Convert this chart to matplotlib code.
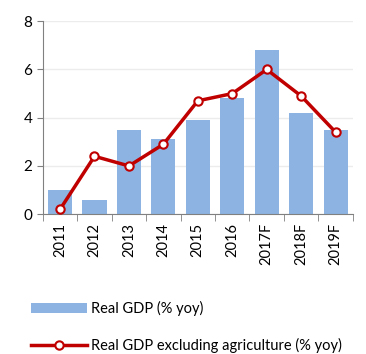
import matplotlib
matplotlib.use("Agg")
import matplotlib.pyplot as plt
import numpy as np

categories = ["2011", "2012", "2013", "2014", "2015", "2016", "2017F", "2018F", "2019F"]
real_gdp = [1.0, 0.6, 3.5, 3.1, 3.9, 4.8, 6.8, 4.2, 3.5]
real_gdp_ex_agri = [0.2, 2.4, 2.0, 2.9, 4.7, 5.0, 6.0, 4.9, 3.4]
y_ticks = [0, 2, 4, 6, 8]

plt.rcParams['font.family'] = ['Lato', 'DejaVu Sans']

fig = plt.figure(figsize=(3.66, 3.54), dpi=100)
ax = fig.add_axes([0.117, 0.395, 0.847, 0.545])

x = np.arange(len(categories))
bars = ax.bar(x, real_gdp, width=0.7, color="#8db3e2", zorder=2, label="Real GDP (% yoy)")
line, = ax.plot(x, real_gdp_ex_agri, color="#c00000", lw=2.5, marker="o", ms=6,
                mfc="white", mec="#c00000", mew=1.5, zorder=3,
                label="Real GDP excluding agriculture (% yoy)")

ax.set_xlim(-0.5, len(categories) - 0.5)
ax.set_ylim(0, 8)
ax.set_yticks(y_ticks)
ax.yaxis.grid(True, color="#ececec", lw=1, zorder=0)
ax.set_xticks(x)
ax.set_xticklabels(categories, rotation=90, fontsize=10.5)
ax.tick_params(axis="x", length=0, pad=6)
ax.set_xticks(np.arange(-0.5, len(categories)), minor=True)
ax.tick_params(axis="x", which="minor", length=5, color="#808080", direction="out")
ax.tick_params(axis="y", length=4, color="#808080", labelsize=11)

for s in ["top", "right"]:
    ax.spines[s].set_visible(False)
for s in ["left", "bottom"]:
    ax.spines[s].set_color("#808080")

fig.legend(handles=[bars, line], loc="upper left", bbox_to_anchor=(0.07, 0.165),
           frameon=False, fontsize=10.5, handlelength=3.8, handletextpad=0.3,
           labelspacing=1.45, borderaxespad=0)

fig.savefig("out.png", dpi=100)
